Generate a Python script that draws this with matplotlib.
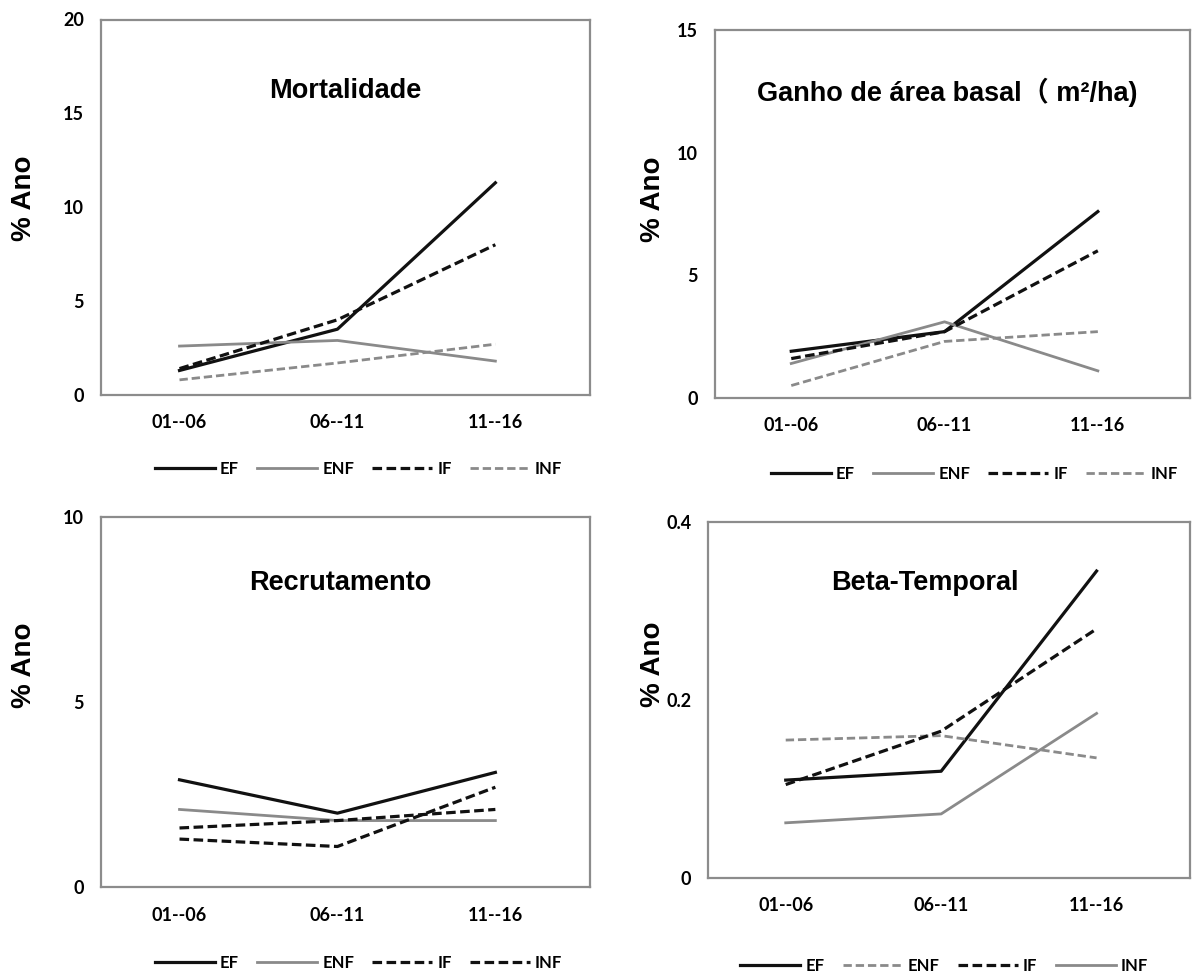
import matplotlib.pyplot as plt

periods = ["01--06", "06--11", "11--16"]

# Mortalidade
mort_ef = [1.3, 3.5, 11.3]
mort_enf = [2.6, 2.9, 1.8]
mort_if = [1.4, 4.0, 8.0]
mort_inf = [0.8, 1.7, 2.7]

# Ganho de area basal
gab_ef = [1.9, 2.7, 7.6]
gab_enf = [1.4, 3.1, 1.1]
gab_if = [1.6, 2.7, 6.0]
gab_inf = [0.5, 2.3, 2.7]

# Recrutamento
rec_ef = [2.9, 2.0, 3.1]
rec_enf = [2.1, 1.8, 1.8]
rec_if = [1.3, 1.1, 2.7]
rec_inf = [1.6, 1.8, 2.1]

# Beta-Temporal
beta_ef = [0.11, 0.12, 0.345]
beta_enf = [0.155, 0.16, 0.135]
beta_if = [0.105, 0.165, 0.28]
beta_inf = [0.062, 0.072, 0.185]

BLACK = "#111111"
GREY = "#8a8a8a"
DASH = (0, (3, 1.4))

tick_font = dict(family="Lato", weight="bold", size=13)

fig = plt.figure(figsize=(11.97, 9.75), dpi=100)


def panel(rect, title, ymax, yticks, ytl, series, title_xy, leg_xy, ylab_xy):
    ax = fig.add_axes(rect)
    x = range(len(periods))
    for vals, col, ls, lab in series:
        ax.plot(x, vals, color=col, linestyle=ls, lw=2.3 if col == BLACK else 2.0,
                label=lab)
    ax.set_xlim(-0.5, 2.6)
    ax.set_ylim(0, ymax)
    ax.set_xticks(list(x))
    ax.set_xticklabels(periods, fontdict=tick_font)
    ax.set_yticks(yticks)
    ax.set_yticklabels(ytl, fontdict=tick_font)
    ax.tick_params(axis="y", length=0, pad=12)
    ax.tick_params(axis="x", length=0, pad=14)
    for s in ax.spines.values():
        s.set_color("#8c8c8c")
        s.set_linewidth(1.6)
    ax.text(title_xy[0], title_xy[1], title, transform=ax.transAxes, ha="center",
            va="center", family=["Liberation Sans", "Noto Sans CJK SC"],
            weight="bold", fontsize=19.5)
    ax.set_ylabel("% Ano", family="Liberation Sans", weight="bold", fontsize=20)
    ax.yaxis.set_label_coords(*ylab_xy)
    ax.legend(loc="center", bbox_to_anchor=leg_xy, ncol=4, frameon=False,
              handlelength=3.6, columnspacing=1.1, handletextpad=0.3,
              prop=dict(family="Lato", weight="bold", size=12))
    return ax


panel([0.084, 0.595, 0.409, 0.385], "Mortalidade", 20, [0, 5, 10, 15, 20],
      ["0", "5", "10", "15", "20"],
      [(mort_ef, BLACK, "-", "EF"), (mort_enf, GREY, "-", "ENF"),
       (mort_if, BLACK, DASH, "IF"), (mort_inf, GREY, DASH, "INF")],
      (0.5, 0.81), (0.527, -0.197), (-0.13, 0.525))

panel([0.597, 0.592, 0.397, 0.377], "Ganho de área basal（ m²/ha)", 15, [0, 5, 10, 15],
      ["0", "5", "10", "15"],
      [(gab_ef, BLACK, "-", "EF"), (gab_enf, GREY, "-", "ENF"),
       (gab_if, BLACK, DASH, "IF"), (gab_inf, GREY, DASH, "INF")],
      (0.49, 0.83), (0.547, -0.207), (-0.103, 0.54))

panel([0.084, 0.090, 0.409, 0.380], "Recrutamento", 10, [0, 5, 10],
      ["0", "5", "10"],
      [(rec_ef, BLACK, "-", "EF"), (rec_enf, GREY, "-", "ENF"),
       (rec_if, BLACK, DASH, "IF"), (rec_inf, BLACK, DASH, "INF")],
      (0.49, 0.82), (0.527, -0.205), (-0.13, 0.6))

panel([0.5915, 0.0995, 0.4025, 0.365], "Beta-Temporal", 0.4, [0, 0.2, 0.4],
      ["0", "0.2", "0.4"],
      [(beta_ef, BLACK, "-", "EF"), (beta_enf, GREY, DASH, "ENF"),
       (beta_if, BLACK, DASH, "IF"), (beta_inf, GREY, "-", "INF")],
      (0.45, 0.83), (0.49, -0.247), (-0.087, 0.6))

fig.savefig("out.png", dpi=100)
